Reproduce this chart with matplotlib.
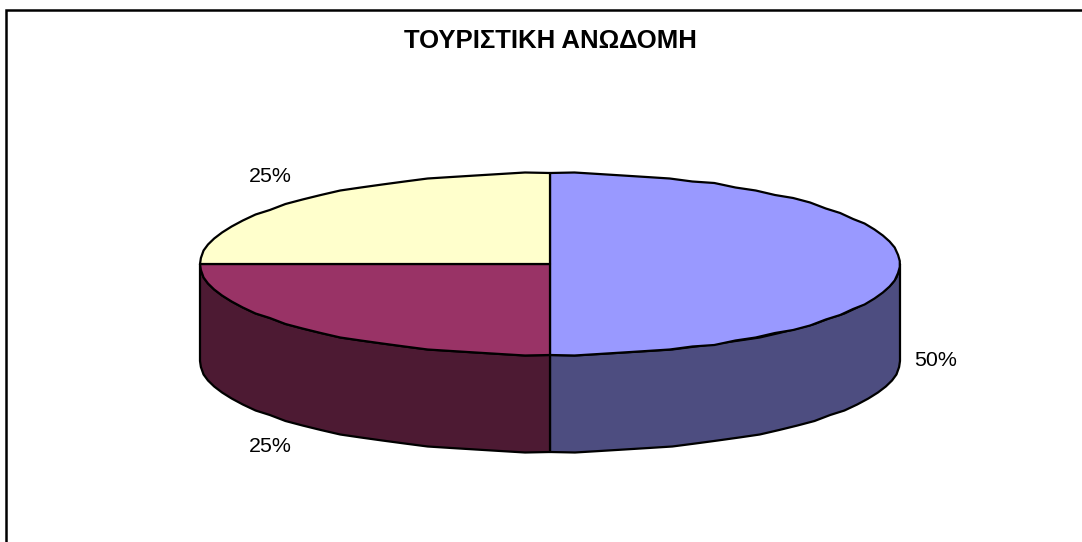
#!/usr/bin/env python3
import numpy as np
import matplotlib

matplotlib.use("Agg")
import matplotlib.pyplot as plt
from matplotlib.patches import Polygon

TITLE = "ΤΟΥΡΙΣΤΙΚΗ ΑΝΩΔΟΜΗ"
SHARES = [50, 25, 25]
PCT_LABELS = ["50%", "25%", "25%"]
TOP_COLORS = ["#9999FF", "#993366", "#FFFFCC"]
SIDE_COLORS = ["#4D4D80", "#4D1A33", "#808066"]

# pie geometry, in image pixels
CX, CY = 550, 264
RX, RY = 350, 91
DEPTH = 97
LW = 1.6
STEP_DEG = 4.0  # the old renderer draws the rim as a coarse polyline
SNAP_PX = 1.5

plt.rcParams["font.family"] = ["Liberation Sans", "DejaVu Sans"]


def rim(t_from, t_to):
    # t is degrees clockwise from the top of the ellipse
    n = max(2, int(round((t_to - t_from) / STEP_DEG)) + 1)
    t = np.radians(np.linspace(t_from, t_to, n))
    x = RX * np.sin(t)
    y = -RY * np.cos(t)
    pts = np.column_stack([x, np.round(y / SNAP_PX) * SNAP_PX])
    pts[0, 1], pts[-1, 1] = y[0], y[-1]
    return pts + [CX, CY]


fig = plt.figure(figsize=(10.82, 5.42), dpi=100)
ax = fig.add_axes([0, 0, 1, 1])
ax.set_xlim(0, 1082)
ax.set_ylim(542, 0)
ax.axis("off")

# chart frame, only the left and top edges are in the image
ax.plot([6, 6, 1082], [542, 10, 10], color="black", lw=1.8, solid_joinstyle="miter")

edges = np.cumsum([0] + SHARES) * 360.0 / sum(SHARES)

# side walls, only the front half (90..270) can be seen
for start, end, color in zip(edges[:-1], edges[1:], SIDE_COLORS):
    lo, hi = max(start, 90), min(end, 270)
    if lo >= hi:
        continue
    front = rim(lo, hi)
    wall = np.vstack([front, front[::-1] + [0, DEPTH]])
    ax.add_patch(Polygon(wall, closed=True, facecolor=color, edgecolor="black", lw=LW, joinstyle="round"))

# top faces
for start, end, color in zip(edges[:-1], edges[1:], TOP_COLORS):
    face = np.vstack([[CX, CY], rim(start, end)])
    ax.add_patch(Polygon(face, closed=True, facecolor=color, edgecolor="black", lw=LW, joinstyle="round"))

ax.text(550, 41, TITLE, ha="center", va="center", fontsize=18.5, fontweight="bold", color="black")
ax.text(936, 360, PCT_LABELS[0], ha="center", va="center", fontsize=15.4, color="black")
ax.text(270, 446, PCT_LABELS[1], ha="center", va="center", fontsize=15.4, color="black")
ax.text(270, 176, PCT_LABELS[2], ha="center", va="center", fontsize=15.4, color="black")

fig.savefig("out.png", dpi=100, facecolor="white")
